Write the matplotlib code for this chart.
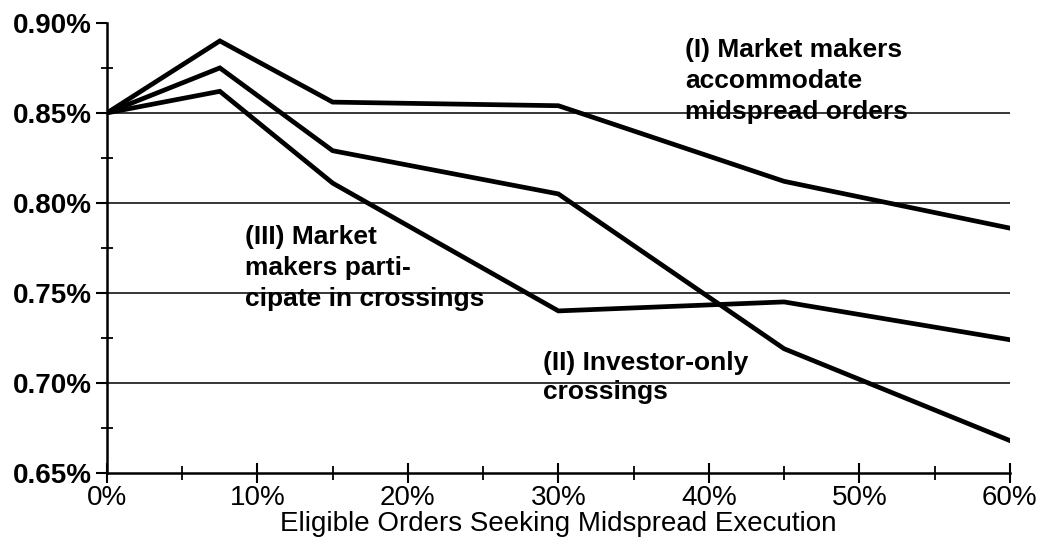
import numpy as np
import matplotlib
matplotlib.use("Agg")
import matplotlib.pyplot as plt
from matplotlib.ticker import MultipleLocator, FuncFormatter

plt.rcParams['font.family'] = ['Liberation Sans', 'DejaVu Sans']

# share of eligible orders seeking midspread execution (%)
x = [0, 7.5, 15, 30, 45, 60]

# effective spread (%) for the three scenarios
mm_accommodate = [0.850, 0.890, 0.856, 0.854, 0.812, 0.786]
investor_only = [0.850, 0.875, 0.829, 0.805, 0.719, 0.668]
mm_participate = [0.850, 0.862, 0.811, 0.740, 0.745, 0.724]

labels = ["(I) Market makers\naccommodate\nmidspread orders",
          "(II) Investor-only\ncrossings",
          "(III) Market\nmakers parti-\ncipate in crossings"]
label_pos = [(38.4, 0.8915), (29.0, 0.7175), (9.2, 0.7875)]
label_spacing = [1.36, 1.25, 1.36]

fig = plt.figure(figsize=(10.43, 5.59), dpi=100)
ax = fig.add_axes([0.1026, 0.154, 0.8655, 0.805])

for yg in [0.70, 0.75, 0.80, 0.85]:
    ax.axhline(yg, color="black", lw=1.1, zorder=1)

for s in (mm_accommodate, investor_only, mm_participate):
    ax.plot(x, s, color="black", lw=3.4, solid_joinstyle="miter", zorder=3)

for txt, (tx, ty), ls in zip(labels, label_pos, label_spacing):
    ax.text(tx, ty, txt, fontsize=19, fontweight="bold", va="top", ha="left",
            linespacing=ls, zorder=4)

ax.set_xlim(0, 60)
ax.set_ylim(0.65, 0.90)
ax.spines["top"].set_visible(False)
ax.spines["right"].set_visible(False)
ax.spines["left"].set_linewidth(1.8)
ax.spines["bottom"].set_linewidth(1.8)

ax.xaxis.set_major_locator(MultipleLocator(10))
ax.xaxis.set_minor_locator(MultipleLocator(5))
ax.yaxis.set_major_locator(MultipleLocator(0.05))
ax.yaxis.set_minor_locator(MultipleLocator(0.025))
ax.xaxis.set_major_formatter(FuncFormatter(lambda v, p: "%d%%" % round(v)))
ax.yaxis.set_major_formatter(FuncFormatter(lambda v, p: "%.2f%%" % v))

ax.tick_params(axis="x", which="major", direction="inout", length=14, width=1.5,
               labelsize=20, pad=2)
ax.tick_params(axis="x", which="minor", direction="inout", length=10, width=1.3)
ax.tick_params(axis="y", which="major", direction="out", length=8, width=1.5,
               labelsize=20, pad=3)
ax.tick_params(axis="y", which="minor", direction="inout", length=8, width=1.3)
for lab in ax.get_yticklabels():
    lab.set_fontweight("bold")

ax.set_xlabel("Eligible Orders Seeking Midspread Execution", fontsize=20, labelpad=0)

fig.savefig("out.png", dpi=100)
